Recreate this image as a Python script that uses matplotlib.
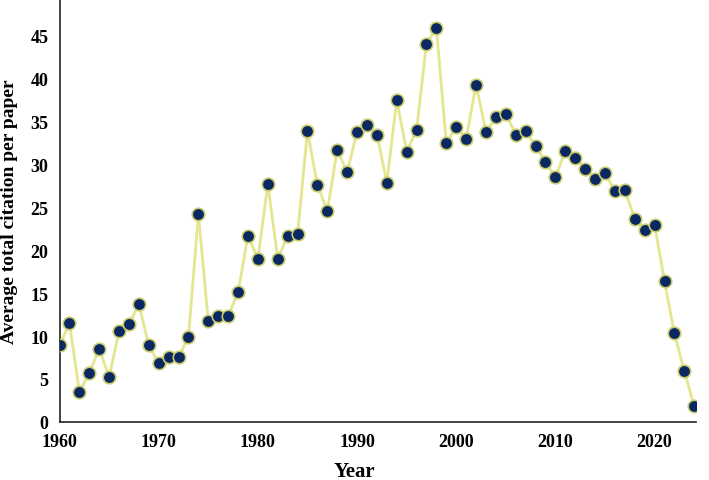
import numpy as np
import matplotlib
matplotlib.use("Agg")
import matplotlib.pyplot as plt

plt.rcParams["font.family"] = ["Liberation Serif", "DejaVu Serif"]
plt.rcParams["font.weight"] = "bold"

# ---------- Data ----------
years = list(range(1960, 2025))
avg_citations = [
    8.9, 11.5, 3.5, 5.7, 8.5, 5.2, 10.6, 11.4, 13.7, 8.9,
    6.8, 7.6, 7.5, 9.9, 24.2, 11.7, 12.3, 12.3, 15.1, 21.7,
    19.0, 27.7, 19.0, 21.7, 21.9, 33.9, 27.6, 24.6, 31.7, 29.1,
    33.8, 34.6, 33.5, 27.9, 37.5, 31.5, 34.0, 44.1, 45.9, 32.5,
    34.4, 33.0, 39.3, 33.8, 35.5, 35.9, 33.5, 33.9, 32.2, 30.3,
    28.5, 31.6, 30.8, 29.5, 28.3, 29.0, 26.9, 27.0, 23.7, 22.4,
    23.0, 16.4, 10.3, 5.9, 1.8,
]

LINE_COLOR = "#e4e690"
MARKER_FACE = "#0b2863"
MARKER_EDGE = "#c9cc6a"

# ---------- Plot ----------
fig = plt.figure(figsize=(7.09, 4.81), dpi=100)
ax = fig.add_axes([0.084, 0.121, 0.898, 0.879])

ax.plot(years, avg_citations, color=LINE_COLOR, linewidth=2.0, zorder=2)
ax.plot(years, avg_citations, linestyle="none", marker="o", markersize=9,
        markerfacecolor=MARKER_FACE, markeredgecolor=MARKER_EDGE,
        markeredgewidth=1.2, zorder=3)

ax.set_xlim(1960, 2024.2)
ax.set_ylim(0, 49.3)
ax.set_xticks(np.arange(1960, 2021, 10))
ax.set_yticks(np.arange(0, 46, 5))
ax.tick_params(length=0, labelsize=13, pad=8)
for lbl in ax.get_xticklabels() + ax.get_yticklabels():
    lbl.set_fontweight("bold")

for side in ("top", "right"):
    ax.spines[side].set_visible(False)
for side in ("left", "bottom"):
    ax.spines[side].set_linewidth(1.2)
    ax.spines[side].set_color("#222222")

# axis titles placed in figure coords (as in the reference)
fig.text(0.5, 0.019, "Year", fontsize=15, fontweight="bold", ha="center", va="center")
fig.text(0.013, 0.56, "Average total citation per paper", fontsize=14,
         fontweight="bold", ha="center", va="center", rotation=90)

fig.savefig("out.png", dpi=100)
plt.close(fig)
